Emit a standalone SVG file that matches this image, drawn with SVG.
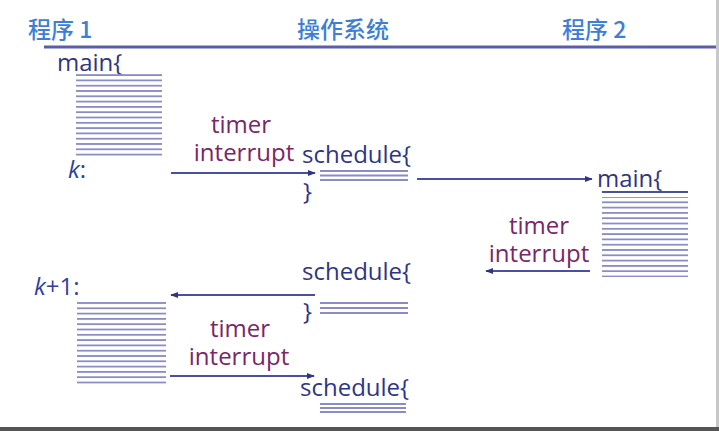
<svg xmlns="http://www.w3.org/2000/svg" width="719" height="431" viewBox="0 0 719 431">
<defs>
<style>
.hdr{font-family:"Noto Sans CJK SC","Liberation Sans",sans-serif;font-size:23px;fill:#3b7fd6;font-weight:500}
.code{font-family:"Open Sans","Liberation Sans",sans-serif;font-size:24px;fill:#2f3585}
.lbl{font-family:"Open Sans","Liberation Sans",sans-serif;font-size:24px;fill:#7a2668;text-anchor:middle}
.ital{font-style:italic;fill:#2f3fa0}
.ln{stroke:#8a8cc4;stroke-width:1.8}
.arr{stroke:#4a50a0;stroke-width:2;fill:none;marker-end:url(#ah)}
</style>
<marker id="ah" viewBox="0 0 10 10" refX="9" refY="5" markerWidth="4" markerHeight="4" orient="auto">
<path d="M0,1 L10,5 L0,9 Z" fill="#2f3585"/>
</marker>
<pattern id="stripes" width="10" height="5.3" patternUnits="userSpaceOnUse">
<rect width="10" height="1.8" fill="#8a8cc4"/>
</pattern>
</defs>
<rect width="719" height="431" fill="#ffffff"/>
<rect x="716" y="0" width="3" height="431" fill="#c8c8c8"/>
<rect x="0" y="427" width="719" height="4" fill="#555555"/>

<g id="header">
<text class="hdr" x="28" y="38">程序 1</text>
<text class="hdr" x="297" y="38">操作系统</text>
<text class="hdr" x="562" y="38">程序 2</text>
<line x1="44" y1="47" x2="716" y2="47" stroke="#5b5ea6" stroke-width="3"/>
</g>

<g id="prog1-main">
<text class="code" x="57" y="71">main{</text>
<rect x="76" y="73" width="86" height="84" fill="url(#stripes)"/>
<text class="code ital" x="68" y="178">k<tspan font-style="normal">:</tspan></text>
</g>

<g id="sched1">
<text class="code" x="302" y="163">schedule{</text>
<line class="ln" x1="320" y1="171" x2="408" y2="171"/>
<line class="ln" x1="320" y1="175.5" x2="408" y2="175.5"/>
<line class="ln" x1="320" y1="180" x2="408" y2="180"/>
<text class="code" x="303" y="200">}</text>
</g>

<g id="prog2-main">
<text class="code" x="597" y="187">main{</text>
<line x1="602" y1="192" x2="688" y2="192" stroke="#4a4f9e" stroke-width="2"/>
<rect x="602" y="197" width="86" height="80" fill="url(#stripes)"/>
</g>

<g id="sched2">
<text class="code" x="302" y="280">schedule{</text>
<text class="code" x="303" y="320">}</text>
<line class="ln" x1="320" y1="303" x2="408" y2="303"/>
<line class="ln" x1="320" y1="308" x2="408" y2="308"/>
<line class="ln" x1="320" y1="313" x2="408" y2="313"/>
</g>

<g id="prog1-k1">
<text class="code ital" x="34" y="295">k<tspan font-style="normal">+1:</tspan></text>
<rect x="77" y="300" width="89" height="85" fill="url(#stripes)"/>
</g>

<g id="sched3">
<text class="code" x="300" y="396">schedule{</text>
<line class="ln" x1="320" y1="404" x2="406" y2="404"/>
<line class="ln" x1="320" y1="408" x2="406" y2="408"/>
<line class="ln" x1="320" y1="412" x2="406" y2="412"/>
</g>

<g id="connectors">
<line class="arr" x1="171" y1="173" x2="315" y2="173"/>
<line class="arr" x1="417" y1="179" x2="592" y2="179"/>
<line class="arr" x1="590" y1="271" x2="486" y2="271"/>
<line class="arr" x1="315" y1="295" x2="171" y2="295"/>
<line class="arr" x1="170" y1="376" x2="314" y2="376"/>
<text class="lbl" x="241" y="133">timer</text>
<text class="lbl" x="244" y="161">interrupt</text>
<text class="lbl" x="539" y="234">timer</text>
<text class="lbl" x="539" y="262">interrupt</text>
<text class="lbl" x="240" y="337">timer</text>
<text class="lbl" x="239" y="365">interrupt</text>
</g>
</svg>
